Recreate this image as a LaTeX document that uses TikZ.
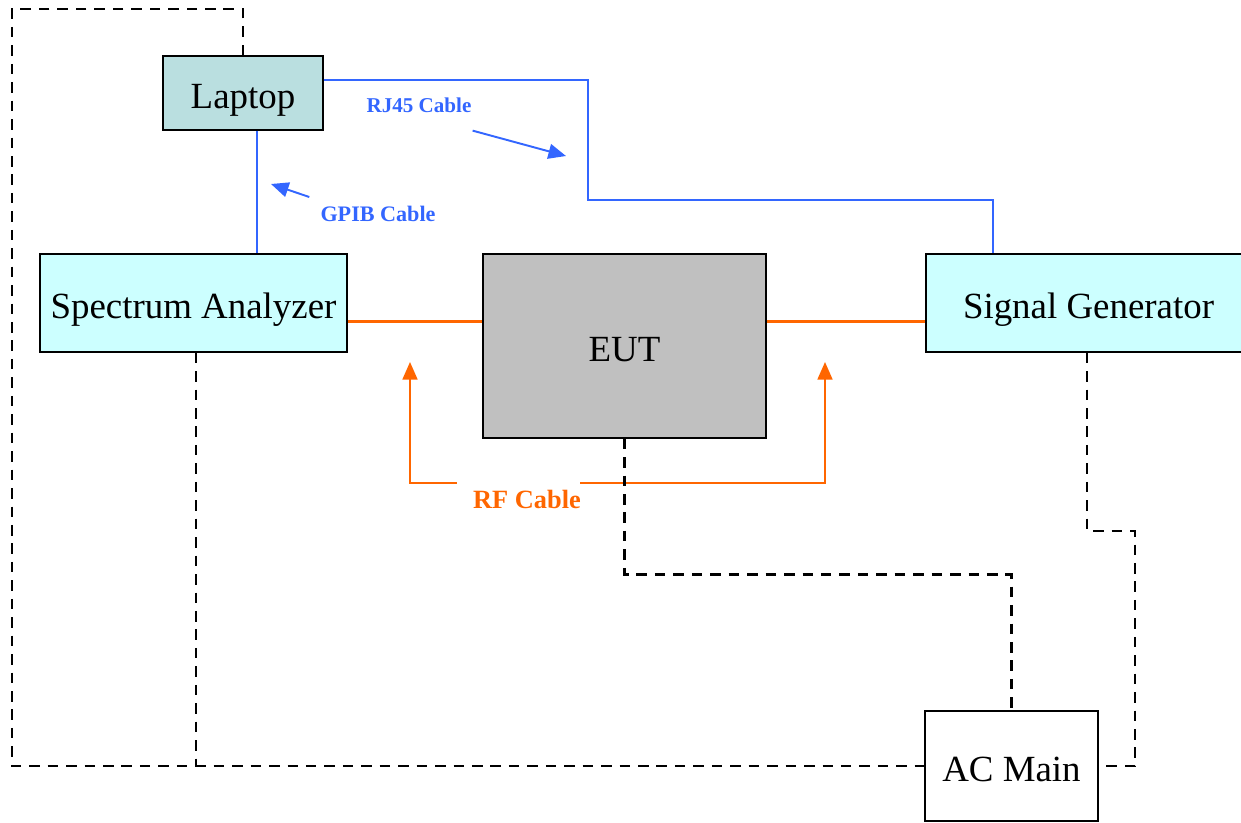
\documentclass[tikz,border=0pt]{standalone}
\usepackage{fontspec}
\setmainfont{Liberation Serif}
\usepackage{tikz}
\usetikzlibrary{calc, arrows.meta}
\definecolor{lapfill}{HTML}{BADFE0}
\definecolor{boxfill}{HTML}{CCFFFF}
\definecolor{eutfill}{HTML}{C0C0C0}
\definecolor{cableblue}{HTML}{3366FF}
\definecolor{cableorange}{HTML}{FF6600}

\begin{document}
\begin{tikzpicture}[x=0.02cm, y=-0.02cm,
        unit/.style={draw, line width=0.8pt, inner sep=0pt, text height=18pt, text depth=0pt, font=\fontsize{21}{25}\selectfont},
        power/.style={line width=1.4pt, dash pattern=on 6pt off 4.5pt},
        lan/.style={cableblue, line width=0.9pt},
        rf/.style={cableorange, line width=1.8pt},
        rfthin/.style={cableorange, line width=1.1pt},
        tip/.style={-{Triangle[length=10pt, width=8.5pt]}},
        lbl/.style={font=\bfseries\fontsize{12}{14}\selectfont}]
        \useasboundingbox (0,0) rectangle (1241,822);

        \node[unit, fill=lapfill, minimum width=3.2cm, minimum height=1.48cm] (laptop) at (243,93) {Laptop};

        \node[unit, fill=boxfill, minimum width=6.14cm, minimum height=1.96cm] (analyzer) at (193.5,303) {Spectrum Analyzer};

        \node[unit, fill=eutfill, minimum width=5.66cm, minimum height=3.68cm] (eut) at (624.5,346) {EUT};

        \node[unit, fill=boxfill, minimum width=6.5cm, minimum height=1.96cm] (signal) at (1088.5,303) {Signal Generator};

        \node[unit, fill=white, minimum width=3.46cm, minimum height=2.2cm] (acmain) at (1011.5,766) {AC Main};

        \draw[lan] ([xshift=0.28cm]laptop.south) -- ([xshift=0.28cm]laptop.south |- analyzer.north);
        \draw[lan] ([yshift=0.26cm]laptop.east) -| (588,200) -| ([xshift=-1.91cm]signal.north);

        \node[lbl, cableblue] (rj45) at (419,105) {RJ45 Cable};
        \node[lbl, cableblue, font=\bfseries\fontsize{12.6}{15}\selectfont] (gpib) at (378,214) {GPIB Cable};
        \coordinate (rj45tip) at (566,156);
        \coordinate (gpibtip) at (271,184);
        \draw[lan, line width=1.1pt, tip] ($(rj45.south east)+(-5,12)$) -- (rj45tip);
        \draw[lan, line width=1.1pt, tip] ($(gpib.north west)+(-5,-3)$) -- (gpibtip);

        \draw[rf] ($(analyzer.east)+(0,18.7)$) -- ($(analyzer.east -| eut.west)+(0,18.7)$);
        \draw[rf] ($(signal.west -| eut.east)+(0,18.7)$) -- ($(signal.west)+(0,18.7)$);

        \node[lbl, cableorange, font=\bfseries\fontsize{15}{17}\selectfont] (rfcable) at (527,499) {RF Cable};
        \coordinate (rflefttip) at (410,362);
        \coordinate (rfrighttip) at (825,362);
        \draw[rfthin, tip] ($(rfcable.west)+(-10,-16)$) -| (rflefttip);
        \draw[rfthin, tip] ($(rfcable.east)+(-7,-16)$) -| (rfrighttip);

        \draw[power] (laptop.north) |- (12,9) |- (acmain.west);
        \draw[power] ([xshift=0.05cm]analyzer.south) -- ([xshift=0.05cm]analyzer.south |- acmain.west);
        \draw[power] (eut.south) |- ($(acmain.north)+(0,-136)$) -- (acmain.north);
        \draw[power] ([xshift=-0.03cm]signal.south) |- (1135,531) |- (acmain.east);
    \end{tikzpicture}
\end{document}
